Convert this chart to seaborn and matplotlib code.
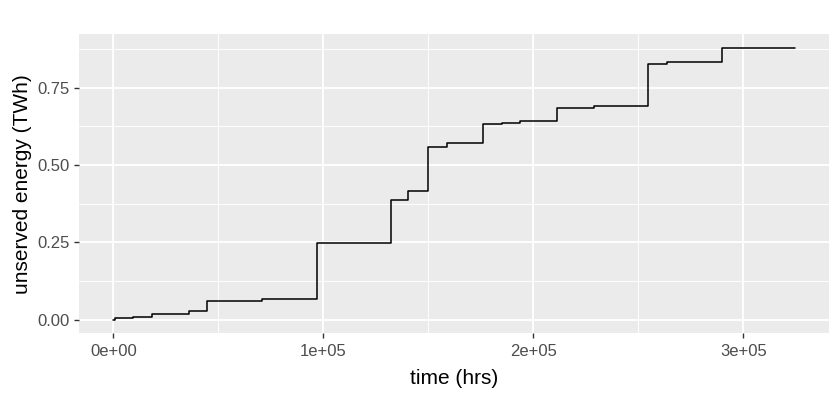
import matplotlib
matplotlib.use("Agg")
import matplotlib.pyplot as plt
import seaborn as sns
import pandas as pd
from matplotlib.ticker import FixedLocator

time_hrs = [0, 800, 9520, 18290, 35900, 44620, 70670, 97140, 132240, 140330,
            150000, 158760, 176190, 184950, 193670, 211430, 228900, 254760,
            263810, 272570, 290000, 324760]
unserved_twh = [0.0, 0.004, 0.010, 0.018, 0.029, 0.061, 0.067, 0.248, 0.388, 0.415,
                0.557, 0.571, 0.634, 0.637, 0.642, 0.685, 0.690, 0.828,
                0.833, 0.835, 0.880, 0.880]
x_ticks = [0, 100000, 200000, 300000]
x_tick_labels = ["0e+00", "1e+05", "2e+05", "3e+05"]
y_ticks = [0.0, 0.25, 0.5, 0.75]
y_tick_labels = ["0.00", "0.25", "0.50", "0.75"]

df = pd.DataFrame({"time": time_hrs, "energy": unserved_twh})

sns.set_theme(style="white")
plt.rcParams["font.family"] = ["Liberation Sans", "DejaVu Sans"]

fig = plt.figure(figsize=(8.4, 4.2), dpi=100)
ax = fig.add_axes([79.3 / 840, 1 - 333.3 / 420, (829.3 - 79.3) / 840, (333.3 - 34) / 420])
ax.set_facecolor("#EBEBEB")

sns.lineplot(data=df, x="time", y="energy", drawstyle="steps-post",
             color="black", linewidth=1.1, ax=ax, zorder=3)

xmin, xmax = min(time_hrs), max(time_hrs)
xr = xmax - xmin
ax.set_xlim(xmin - 0.05 * xr, xmax + 0.05 * xr)
ymin, ymax = min(unserved_twh), max(unserved_twh)
yr = ymax - ymin
ax.set_ylim(ymin - 0.05 * yr, ymax + 0.05 * yr)

ax.xaxis.set_major_locator(FixedLocator(x_ticks))
ax.set_xticklabels(x_tick_labels)
ax.yaxis.set_major_locator(FixedLocator(y_ticks))
ax.set_yticklabels(y_tick_labels)
ax.xaxis.set_minor_locator(FixedLocator([50000, 150000, 250000]))
ax.yaxis.set_minor_locator(FixedLocator([0.125, 0.375, 0.625, 0.875]))

ax.grid(which="major", color="white", linewidth=1.3)
ax.grid(which="minor", color="white", linewidth=0.65)
ax.set_axisbelow(True)
for s in ax.spines.values():
    s.set_visible(False)

ax.tick_params(which="major", length=3.75, width=1.0, color="#333333",
               labelcolor="#4D4D4D", labelsize=12, pad=3,
               bottom=True, left=True)
ax.tick_params(axis="x", which="major", pad=4)
ax.tick_params(which="minor", length=0, bottom=False, left=False)

ax.set_xlabel("time (hrs)", fontsize=15, color="black", labelpad=7)
ax.set_ylabel("unserved energy (TWh)", fontsize=15, color="black", labelpad=4)

fig.savefig("out.png", dpi=100, facecolor="white")
